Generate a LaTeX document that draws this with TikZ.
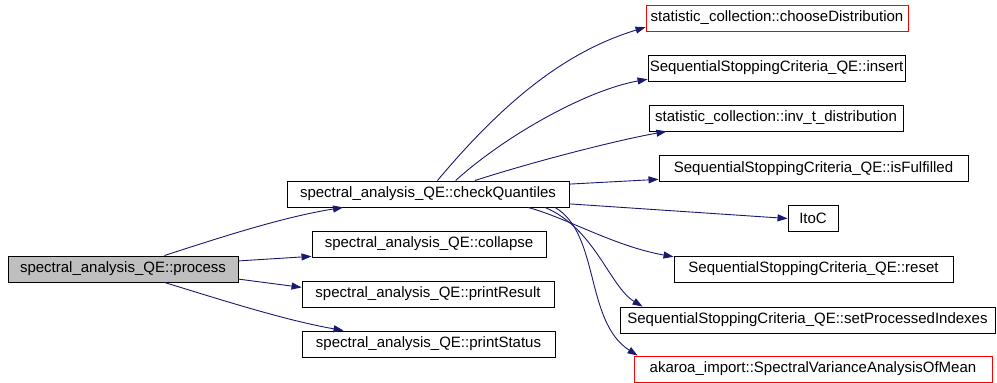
\documentclass[tikz,border=0pt]{standalone}
\usepackage{fontspec}
\setmainfont{Liberation Sans}
\usetikzlibrary{arrows.meta}
\definecolor{callblue}{HTML}{191970}

\begin{document}
\begin{tikzpicture}[x=1pt,y=1pt,>={Triangle[length=10pt,width=7pt]},
    fn/.style={draw,line width=0.9pt,minimum height=26pt,inner sep=0pt,
      font=\fontsize{15}{18}\selectfont},
    ext/.style={fn,draw=red},
    root/.style={fn,fill=black!25},
    call/.style={->,line width=0.9pt,draw=callblue,fill=none}]
\useasboundingbox (0,0) rectangle (997,383);
% caller and its direct callees
\node[root,minimum width=230pt] (proc) at (123,114) {spectral\_analysis\_QE::process};
\foreach \n/\s/\x/\y/\w/\t in {
    cq/fn/428/189/282/spectral\_analysis\_QE::checkQuantiles,
    col/fn/429/139/234/spectral\_analysis\_QE::collapse,
    pr/fn/428/89/252/spectral\_analysis\_QE::printResult,
    ps/fn/428.5/39/253/spectral\_analysis\_QE::printStatus,
    cd/ext/777/365/262/statistic\_collection::chooseDistribution,
    ins/fn/776.5/315/257/SequentialStoppingCriteria\_QE::insert,
    inv/fn/776/265/254/statistic\_collection::inv\_t\_distribution,
    isf/fn/813.5/214.5/309/SequentialStoppingCriteria\_QE::isFulfilled,
    itoc/fn/813/164.5/50/ItoC,
    rst/fn/813.5/114/279/SequentialStoppingCriteria\_QE::reset,
    spi/fn/807.5/63/375/SequentialStoppingCriteria\_QE::setProcessedIndexes,
    svm/ext/813/14/358/akaroa\_import::SpectralVarianceAnalysisOfMean} {
  \node[\s,minimum width=\w pt] (\n) at (\x,\y) {\t};
}
% calls made by process
\draw[call] (proc.18) .. controls +(18:60) and +(189:60) .. (cq.189);
\draw[call] (proc.4) -- (col.186);
\draw[call] (proc.-5) -- (pr.177);
\draw[call] (proc.-18) .. controls +(-17:60) and +(170:60) .. (ps.171);
% calls made by checkQuantiles
\draw[call] (cq.55) .. controls +(50:110) and +(197:80) .. (cd.184);
\draw[call] (cq.26) .. controls +(42:70) and +(190:60) .. (ins.185);
\draw[call] (cq.16) .. controls +(18:60) and +(190:50) .. (inv.187);
\draw[call] (cq.4) -- (isf.184);
\draw[call] (cq.-4) -- (itoc.180);
\draw[call] ([xshift=100pt]cq.south) .. controls +(-15:40) and +(170:60) .. (rst.175);
\draw[call] ([xshift=117pt]cq.south) .. controls +(50,-21) and +(-33,20) .. ([xshift=23pt]spi.north west);
\draw[call] ([xshift=127pt]cq.south) .. controls +(45,-26) and +(-53,34) .. ([xshift=4pt]svm.north west);
\end{tikzpicture}
\end{document}
